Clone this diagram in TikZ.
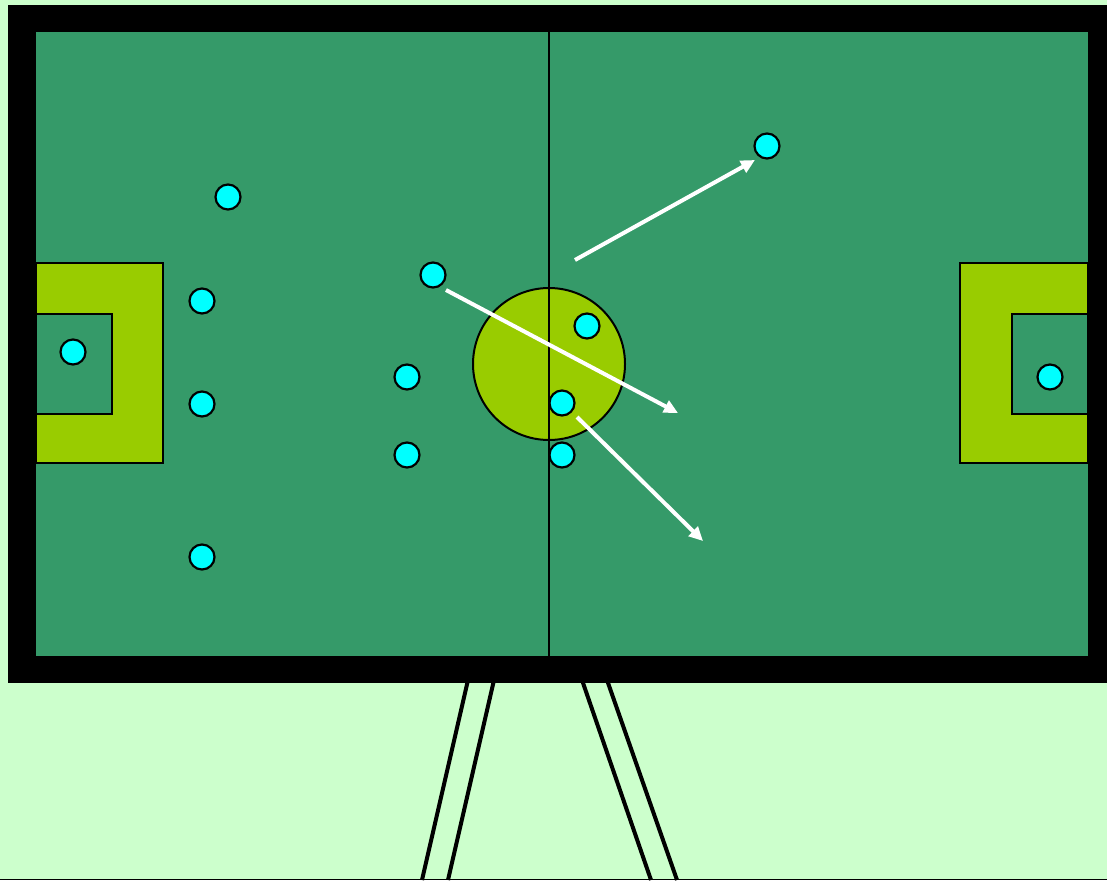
\documentclass[tikz,border=0pt]{standalone}
\usetikzlibrary{arrows.meta}
\definecolor{bgc}{HTML}{CCFFCC}
\definecolor{field}{HTML}{359A69}
\definecolor{lime}{HTML}{99CC00}
\definecolor{cyanp}{HTML}{00FFFF}
\begin{document}
\begin{tikzpicture}[x=1pt,y=-1pt,
  player/.style={circle,draw=black,line width=2.2pt,fill=cyanp,minimum size=25pt,inner sep=0pt},
  move/.style={draw=white,line width=4pt,-{Triangle[length=14pt,width=13pt]}},
  leg/.style={draw=black,line width=4pt},
  pitchline/.style={draw=black,line width=2pt}]
\useasboundingbox (0,0) rectangle (1107,880);
\fill[bgc] (0,0) rectangle (1107,880);
% legs
\coordinate (l1a) at (468,680); \coordinate (l1b) at (422,880);
\coordinate (l2a) at (494,680); \coordinate (l2b) at (448,880);
\coordinate (r1a) at (582,680); \coordinate (r1b) at (651,880);
\coordinate (r2a) at (607,680); \coordinate (r2b) at (677,880);
\draw[leg] (l1a) -- (l1b);
\draw[leg] (l2a) -- (l2b);
\draw[leg] (r1a) -- (r1b);
\draw[leg] (r2a) -- (r2b);
\draw[black,line width=1.5pt] (0,879.4) -- (1107,879.4);
% board
\fill[black] (8,5) rectangle (1107,683);
\fill[field] (36,32) rectangle (1088,656);
% penalty areas
\draw[pitchline,fill=lime] (36,263) rectangle (163,463);
\draw[pitchline,fill=field] (36,314) rectangle (112,414);
\draw[pitchline,fill=lime] (1088,263) rectangle (960,463);
\draw[pitchline,fill=field] (1088,314) rectangle (1012,414);
% centre
\draw[pitchline,fill=lime] (549,364) circle (76);
\draw[black,line width=2pt] (549,32) -- (549,656);
% players
\node[player] (p1) at (228,197) {};
\node[player] (p2) at (202,301) {};
\node[player] (p3) at (73,352) {};
\node[player] (p4) at (202,404) {};
\node[player] (p5) at (202,557) {};
\node[player] (p6) at (433,275) {};
\node[player] (p7) at (407,377) {};
\node[player] (p8) at (407,455) {};
\node[player] (p9) at (587,326) {};
\node[player] (p10) at (562,403) {};
\node[player] (p11) at (562,455) {};
\node[player] (p12) at (767,146) {};
\node[player] (p13) at (1050,377) {};
% runs
\coordinate (a1s) at (575,260); \coordinate (a1e) at (755,160);
\coordinate (a2s) at (446,290); \coordinate (a2e) at (678,413);
\coordinate (a3s) at (577,417); \coordinate (a3e) at (703,541);
\draw[move] (a1s) -- (a1e);
\draw[move] (a2s) -- (a2e);
\draw[move] (a3s) -- (a3e);
\end{tikzpicture}
\end{document}
